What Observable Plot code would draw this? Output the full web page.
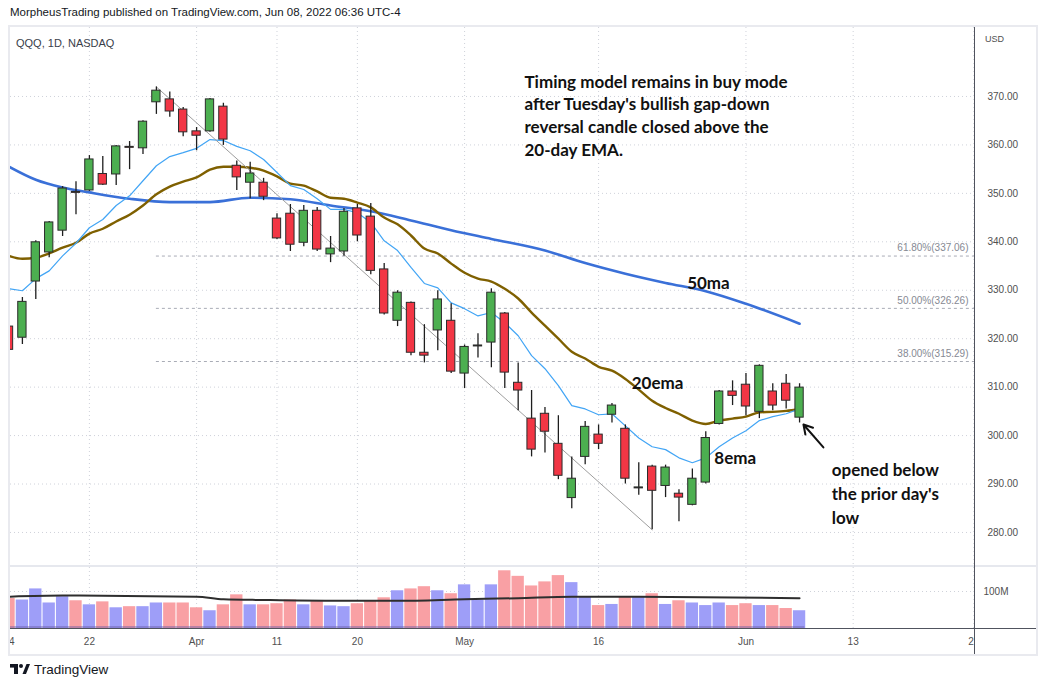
<!DOCTYPE html>
<html><head><meta charset="utf-8">
<script src="https://cdn.jsdelivr.net/npm/d3@7"></script>
<script src="https://cdn.jsdelivr.net/npm/@observablehq/plot@0.6"></script>
<style>
body{margin:0;background:#fff;}
#root{position:relative;width:1046px;height:689px;overflow:hidden;font-family:"Liberation Sans",Arial,sans-serif;color:#131722;}
#root svg{max-width:none !important;}
#frame{position:absolute;left:8px;top:25px;width:1030px;height:631px;border:2px solid #e9eaef;box-sizing:border-box;overflow:hidden;}
</style></head><body><div id="root"></div>
<script>
// ---------- data ----------
const dates = ["Mar 14","Mar 15","Mar 16","Mar 17","Mar 18","Mar 21","Mar 22","Mar 23","Mar 24","Mar 25",
  "Mar 28","Mar 29","Mar 30","Mar 31","Apr 1","Apr 4","Apr 5","Apr 6","Apr 7","Apr 8",
  "Apr 11","Apr 12","Apr 13","Apr 14","Apr 18","Apr 19","Apr 20","Apr 21","Apr 22","Apr 25",
  "Apr 26","Apr 27","Apr 28","Apr 29","May 2","May 3","May 4","May 5","May 6","May 9",
  "May 10","May 11","May 12","May 13","May 16","May 17","May 18","May 19","May 20","May 23",
  "May 24","May 25","May 26","May 27","May 31","Jun 1","Jun 2","Jun 3","Jun 6","Jun 7"];
const open = [322.5,320.2,331.8,337.8,342.3,350.3,350.6,354.0,353.9,359.6,
  359.3,368.8,369.4,367.3,362.8,362.8,367.9,355.7,352.2,352.2,
  344.8,345.8,339.8,346.4,337.4,338.0,346.9,345.2,334.3,323.7,
  327.4,317.1,321.7,323.7,312.8,318.4,319.2,325.2,310.9,303.5,
  304.5,298.3,287.1,295.6,300.2,304.3,301.4,289.1,293.6,289.6,
  288.0,285.7,290.3,302.4,309.1,310.5,304.9,309.1,310.7,303.7];
const high = [323.2,328.5,340.2,344.2,351.4,352.4,357.8,357.6,359.9,360.7,
  365.0,371.97,370.9,367.7,363.6,369.6,368.6,356.7,356.4,353.1,
  345.8,347.7,347.5,347.1,341.1,346.9,347.7,347.9,335.5,329.9,
  327.6,322.9,329.9,327.2,318.7,321.0,330.3,325.4,315.0,309.3,
  305.8,304.1,295.6,302.9,302.2,306.6,302.2,294.4,293.9,293.9,
  288.8,293.1,300.8,309.3,311.3,312.8,314.6,310.7,312.6,310.7];
const low = [317.4,318.8,328.1,336.7,341.1,345.6,350.4,351.6,351.6,354.9,
  358.0,366.3,365.7,361.7,358.8,362.6,359.9,350.6,348.9,348.5,
  340.5,338.0,339.0,338.0,335.7,337.0,340.0,333.2,324.9,322.5,
  316.5,315.0,317.5,312.8,309.7,316.0,314.0,309.7,305.1,295.6,
  296.4,290.9,284.9,294.0,297.1,302.6,290.0,287.7,280.55,287.2,
  282.2,285.5,290.0,302.2,306.2,304.1,303.5,305.1,305.5,302.6];
const close = [317.7,327.6,339.9,344.0,351.0,350.1,357.0,351.8,359.7,359.4,
  364.8,371.2,366.9,362.6,361.9,369.4,361.1,353.3,354.1,349.3,
  340.7,339.4,346.4,338.4,338.6,346.2,341.3,334.0,325.2,329.5,
  317.1,316.5,328.1,313.2,318.3,318.6,329.5,313.0,309.3,297.1,
  300.8,291.7,291.1,301.8,298.3,306.2,291.1,289.3,288.6,293.4,
  287.2,291.1,299.5,309.1,308.2,306.0,314.4,306.2,307.2,309.9];
const volume = [81,77,107,69,86,75,64,72,56,59,
  59,69,69,69,56,48,64,91,64,64,
  67,77,64,75,61,59,67,75,83,102,
  107,113,102,94,118,77,118,156,141,115,
  126,143,124,86,62,65,85,86,94,65,
  75,69,62,69,62,67,62,62,54,48];
const ema8 = [330.3,329.9,332.4,334.0,337.1,339.7,342.9,344.6,347.5,349.5,
  352.6,355.7,357.6,358.4,359.3,361.1,360.9,359.7,358.8,357.0,
  354.3,351.6,350.8,348.9,346.7,346.7,346.0,344.0,340.2,338.2,
  334.7,331.4,330.5,327.4,326.2,324.7,325.4,323.3,320.6,316.5,
  313.8,310.3,306.2,305.5,304.3,304.5,302.0,299.5,297.7,297.1,
  295.4,294.4,295.4,297.7,299.5,301.0,303.1,303.9,304.5,305.5];
const ema20 = [337.1,336.5,336.7,337.6,338.8,339.8,341.7,342.7,344.2,345.6,
  347.5,349.8,351.4,352.4,353.3,354.9,355.5,355.5,355.3,354.7,
  353.5,352.0,351.6,350.4,349.1,348.9,348.1,347.1,345.0,343.6,
  341.3,338.6,337.6,335.5,333.6,332.4,331.8,330.3,328.3,325.4,
  322.7,320.0,317.3,315.9,314.2,313.4,311.7,309.5,307.2,305.7,
  304.5,303.1,302.4,303.1,303.5,303.9,304.8,304.9,305.1,305.5];
const ma50Bars = [0,2,4,6,9,12,15,18,21,24,27,30,33,36,40,43,46,49,52,55,59];
const ma50 = [355.5,352.8,351.2,350.2,348.9,348.2,348.2,349.1,348.8,347.5,346.3,344.4,342.4,340.6,338.2,335.6,333.4,331.5,329.8,327.2,323.1];
const volMaBars = [0,4,14,16,19,24,29,34,38,42,47,59];
const volMa = [86,89,86,79,77,75,75,79,82,86,86,82];
const trendBars = [11,48];
const trendPrices = [371.97,280.55];
const fibLevels = ["61.80%","50.00%","38.00%"];
const fibPrices = [337.06,326.26,315.29];
const priceTicks = [280,290,300,310,320,330,340,350,360,370];
const xTickBars = [0,6,14,20,26,34,44,55,63,72];
const xTickLabels = ["14","22","Apr","11","20","May","16","Jun","13","27"];
const note = "Timing model remains in buy mode\nafter Tuesday's bullish gap-down\nreversal candle closed above the\n20-day EMA.";
const note2 = "opened below\nthe prior day's\nlow";

// ---------- build ----------
const W = 1046;
const X_DOMAIN = [0.112, 72.13];
const UP = "#4caf50", DOWN = "#f23645", VUP = "#9e9ef8", VDOWN = "#f9a0a4";
const GRID = {stroke: "#cfd2da", strokeOpacity: 1, strokeDasharray: "1,3"};
const candles = dates.map((d, i) => ({i, date: d, o: open[i], h: high[i], l: low[i], c: close[i], v: volume[i]}));
const tickLabel = new Map(xTickBars.map((b, k) => [b, xTickLabels[k]]));
const bold = {fontFamily: "Lato, 'Open Sans', sans-serif", fontWeight: 700, fontSize: 17, fill: "#111"};
const baseStyle = {background: "transparent", fontFamily: "'Liberation Sans', Arial, sans-serif", fontSize: "10px", color: "#505050", maxWidth: "none"};

const price = Plot.plot({
  width: W, height: 538, marginLeft: 10, marginRight: 71, marginTop: 0, marginBottom: 0,
  x: {type: "linear", domain: X_DOMAIN, axis: null},
  y: {domain: [273.18, 384.24], axis: null},
  style: baseStyle,
  marks: [
    Plot.gridX(xTickBars, GRID),
    Plot.gridY(priceTicks, GRID),
    Plot.axisY(priceTicks, {anchor: "right", label: null, tickSize: 0, tickPadding: 12, tickFormat: d => d.toFixed(2)}),
    Plot.ruleY(fibPrices, {x1: trendBars[0], x2: X_DOMAIN[1], stroke: "#a9acb6", strokeDasharray: "3,3", strokeWidth: 1}),
    Plot.text(fibPrices, {y: d => d, frameAnchor: "right", dx: -7, dy: -8, textAnchor: "end",
      text: (d, k) => `${fibLevels[k]}(${d.toFixed(2)})`, fill: "#868993", fontSize: 10}),
    Plot.line(ma50Bars.map((b, k) => [b, ma50[k]]), {x: d => d[0], y: d => d[1], stroke: "#3a70d8", strokeWidth: 2.6, curve: "monotone-x", clip: true}),
    Plot.line(candles, {x: "i", y: (d) => ema20[d.i], stroke: "#7f6000", strokeWidth: 2.4, curve: "monotone-x", clip: true}),
    Plot.line(candles, {x: "i", y: (d) => ema8[d.i], stroke: "#42a5f5", strokeWidth: 1.2, clip: true}),
    Plot.line(trendBars.map((b, k) => [b, trendPrices[k]]), {x: d => d[0], y: d => d[1], stroke: "#9e9e9e", strokeWidth: 1}),
    Plot.ruleX(candles, {x: "i", y1: "l", y2: "h", stroke: "#1e1e1e", strokeWidth: 1.3, clip: true}),
    Plot.rect(candles, {x1: d => d.i - 0.31, x2: d => d.i + 0.31, y1: "o", y2: "c",
      fill: d => d.c >= d.o ? UP : DOWN, stroke: "#2b2b2b", strokeWidth: 1, clip: true}),
    Plot.text([note], {x: 38.47, y: 366.28, text: d => d, textAnchor: "start", lineAnchor: "middle", lineHeight: 1.335, ...bold}),
    Plot.text(["50ma"], {x: 52.2, y: 331.4, text: d => d, ...bold}),
    Plot.text(["20ema"], {x: 48.4, y: 310.76, text: d => d, ...bold}),
    Plot.text(["8ema"], {x: 54.2, y: 295.3, text: d => d, ...bold}),
    Plot.text([note2], {x: 61.4, y: 288.26, text: d => d, textAnchor: "start", lineAnchor: "middle", lineHeight: 1.42, ...bold}),
    Plot.arrow([0], {x1: 60.78, y1: 297.55, x2: 59.29, y2: 302.29, stroke: "#111", strokeWidth: 2, headLength: 12})
  ]
});

const vol = Plot.plot({
  width: W, height: 87, marginLeft: 10, marginRight: 71, marginTop: 0, marginBottom: 26,
  x: {type: "linear", domain: X_DOMAIN, axis: null},
  y: {domain: [0, 164.9], axis: null},
  style: baseStyle,
  marks: [
    Plot.gridX(xTickBars, GRID),
    Plot.gridY([100], GRID),
    Plot.rect(candles, {x1: d => d.i - 0.46, x2: d => d.i + 0.46, y1: 0, y2: "v", fill: d => d.c >= d.o ? VUP : VDOWN, clip: true}),
    Plot.ruleY([0], {x1: 0, x2: 59.4, stroke: "#6a5aa8", strokeOpacity: 0.45, strokeWidth: 2.5, dy: -1.3, clip: true}),
    Plot.line(volMaBars.map((b, k) => [b, volMa[k]]), {x: d => d[0], y: d => d[1], stroke: "#2e2e2e", strokeWidth: 2, curve: "monotone-x", clip: true}),
    Plot.axisY([100], {anchor: "right", label: null, tickSize: 0, tickPadding: 8, tickFormat: d => d + "M"}),
    Plot.axisX(xTickBars, {anchor: "bottom", label: null, tickSize: 0, tickPadding: 9, tickFormat: d => tickLabel.get(d)})
  ]
});

// ---------- layout ----------
const root = document.getElementById("root");
function el(tag, css, html) { const e = document.createElement(tag); e.style.cssText = css; if (html != null) e.innerHTML = html; return e; }
root.appendChild(el("div", "position:absolute;left:10px;top:5px;font-size:11.5px;line-height:14px;white-space:nowrap;color:#131722;",
  "MorpheusTrading published on TradingView.com, Jun 08, 2022 06:36 UTC-4"));
const frame = el("div", ""); frame.id = "frame"; root.appendChild(frame);
const pWrap = el("div", "position:absolute;left:-10px;top:0;width:1046px;height:538px;"); pWrap.appendChild(price); frame.appendChild(pWrap);
frame.appendChild(el("div", "position:absolute;left:0;top:538px;width:1026px;height:2px;background:#e6e8ee;"));
const vWrap = el("div", "position:absolute;left:-10px;top:540px;width:1046px;height:87px;"); vWrap.appendChild(vol); frame.appendChild(vWrap);
frame.appendChild(el("div", "position:absolute;left:965px;top:602px;width:61px;height:25px;background:#fff;"));
frame.appendChild(el("div", "position:absolute;left:0;top:600.5px;width:1026px;height:1.2px;background:#50535e;"));
frame.appendChild(el("div", "position:absolute;left:964px;top:0;width:1.2px;height:627px;background:#50535e;"));
frame.appendChild(el("div", "position:absolute;left:6px;top:9px;font-size:11px;line-height:14px;color:#3a3e4a;", "QQQ, 1D, NASDAQ"));
frame.appendChild(el("div", "position:absolute;left:975px;top:7px;font-size:9px;line-height:11px;color:#505050;background:#fff;padding-right:8px;", "USD"));
root.appendChild(el("div", "position:absolute;left:10px;top:662px;display:flex;align-items:center;gap:4px;font-size:13.5px;color:#131722;",
  '<svg width="20" height="11" viewBox="0 0 20 11"><rect x="0" y="0" width="8" height="3.6" fill="#131722"/><rect x="4" y="0" width="4" height="10" fill="#131722"/><circle cx="11" cy="2" r="2" fill="#131722"/><polygon points="12.5,10 16.5,0 20,0 16,10" fill="#131722"/></svg><span>TradingView</span>'));
</script></body></html>
